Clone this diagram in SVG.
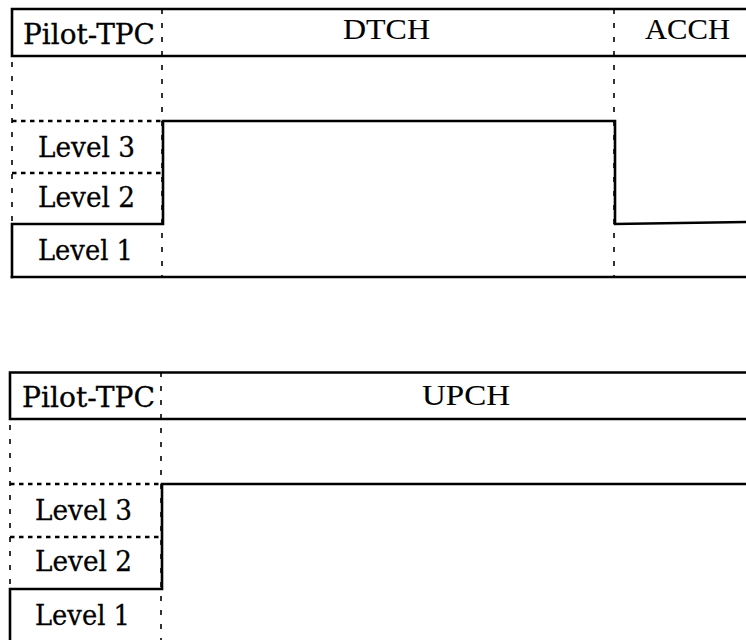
<svg xmlns="http://www.w3.org/2000/svg" width="746" height="640" viewBox="0 0 746 640">
<style>
.s{stroke:#000;stroke-width:2.6;fill:none;stroke-linecap:square}
.dv{stroke:#000;stroke-width:1.6;fill:none;stroke-dasharray:5 9}
.dh{stroke:#000;stroke-width:2.6;fill:none;stroke-dasharray:4.5 4.5}
.t{font-family:"DejaVu Serif","Liberation Serif",serif;font-size:27px;fill:#000;stroke:#000;stroke-width:0.3}
.h{font-family:"Liberation Serif","Times New Roman",serif;font-size:29px;fill:#000;stroke:#000;stroke-width:0.12}
</style>
<rect width="746" height="640" fill="#fff"/>
<g id="top-chart">
  <g id="top-header">
    <path class="s" d="M746 9H12V56H746"/>
    <path class="dv" d="M162 9V277M614 9V277"/>
    <text class="t" x="23" y="44" textLength="132" lengthAdjust="spacingAndGlyphs">Pilot-TPC</text>
    <text class="h" x="343" y="39" textLength="87" lengthAdjust="spacingAndGlyphs">DTCH</text>
    <text class="h" x="645" y="39" textLength="85" lengthAdjust="spacingAndGlyphs">ACCH</text>
  </g>
  <g id="top-levels">
    <path class="dv" d="M12 62V224"/>
    <path class="dh" d="M12 121H162M12 173H162"/>
    <text class="t" x="38" y="157" textLength="97" lengthAdjust="spacingAndGlyphs">Level 3</text>
    <text class="t" x="38" y="207" textLength="97" lengthAdjust="spacingAndGlyphs">Level 2</text>
    <text class="t" x="38" y="260" textLength="95" lengthAdjust="spacingAndGlyphs">Level 1</text>
  </g>
  <g id="top-power">
    <path class="s" d="M12 277V224H163V121H615V224L746 222"/>
    <path class="s" d="M12 277H746"/>
  </g>
</g>
<g id="bottom-chart">
  <g id="bottom-header">
    <path class="s" d="M746 372.5H10V419H746"/>
    <path class="dv" d="M161 372V640"/>
    <text class="t" x="22" y="407" textLength="133" lengthAdjust="spacingAndGlyphs">Pilot-TPC</text>
    <text class="h" x="422" y="405" textLength="88" lengthAdjust="spacingAndGlyphs">UPCH</text>
  </g>
  <g id="bottom-levels">
    <path class="dv" d="M10 425V589"/>
    <path class="dh" d="M10 484H161M10 537H161"/>
    <text class="t" x="35" y="520" textLength="97" lengthAdjust="spacingAndGlyphs">Level 3</text>
    <text class="t" x="35" y="571" textLength="97" lengthAdjust="spacingAndGlyphs">Level 2</text>
    <text class="t" x="35" y="625" textLength="95" lengthAdjust="spacingAndGlyphs">Level 1</text>
  </g>
  <g id="bottom-power">
    <path class="s" d="M10 642V589H162V484H746"/>
  </g>
</g>
</svg>
